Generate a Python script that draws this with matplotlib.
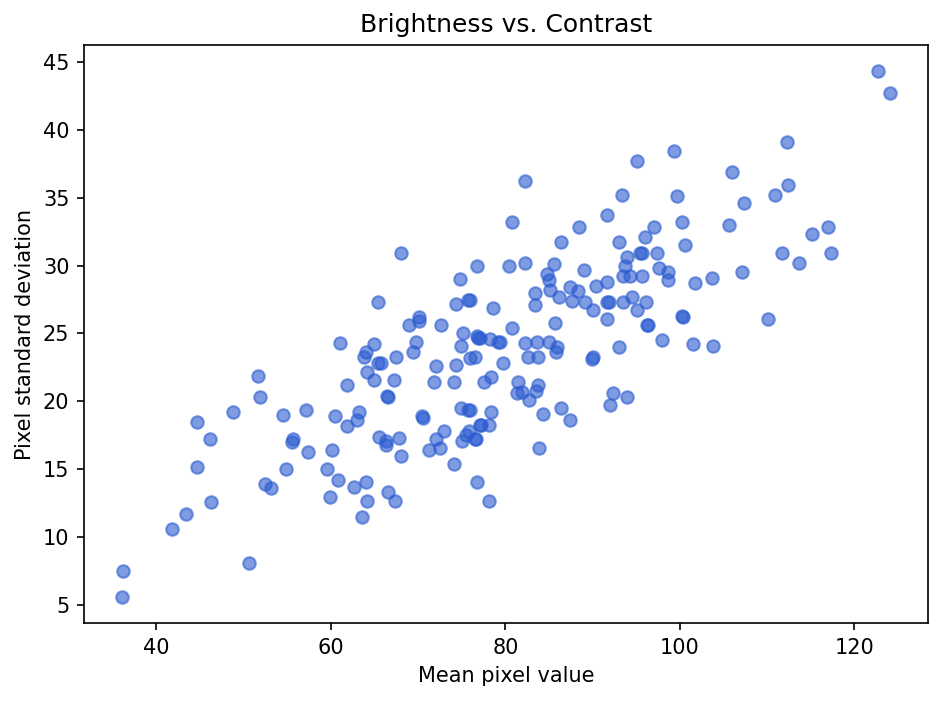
import matplotlib.pyplot as plt

# mean pixel value (x) and pixel standard deviation (y)
mean_px = [
    36.1, 36.2, 41.8, 43.4, 44.6, 44.6, 46.2, 46.3, 48.8, 50.6,
    51.7, 51.9, 52.5, 53.1, 54.5, 54.9, 55.5, 55.7, 57.2, 57.4,
    59.6, 59.9, 60.1, 60.5, 60.8, 61.1, 61.8, 61.9, 62.6, 63.0,
    63.2, 63.6, 63.8, 64.0, 64.0, 64.1, 64.2, 64.9, 64.9, 65.4,
    65.4, 65.5, 65.8, 66.3, 66.3, 66.4, 66.6, 66.6, 67.2, 67.3,
    67.5, 67.8, 68.0, 68.0, 69.0, 69.4, 69.8, 70.1, 70.1, 70.4,
    70.6, 71.2, 71.8, 72.0, 72.1, 72.5, 72.6, 73.0, 74.1, 74.1,
    74.4, 74.3, 74.8, 74.9, 74.9, 75.0, 75.2, 75.5, 75.7, 75.7,
    75.8, 75.9, 76.0, 76.0, 76.5, 76.5, 76.6, 76.7, 76.8, 76.8,
    76.9, 77.1, 77.1, 77.2, 77.5, 78.1, 78.1, 78.3, 78.4, 78.4,
    78.6, 79.2, 79.4, 79.7, 80.4, 80.8, 80.8, 81.3, 81.5, 81.9,
    82.2, 82.3, 82.2, 82.6, 82.7, 83.4, 83.4, 83.5, 83.6, 83.7,
    83.7, 83.9, 84.3, 84.8, 85.0, 85.0, 85.1, 85.6, 85.7, 85.8,
    85.9, 86.2, 86.4, 86.4, 87.4, 87.4, 87.7, 88.3, 88.5, 89.0,
    89.1, 89.9, 90.0, 90.1, 90.4, 91.6, 91.6, 91.6, 91.7, 91.9,
    92.0, 92.4, 93.0, 93.0, 93.4, 93.5, 93.5, 93.7, 93.9, 94.0,
    94.3, 94.5, 95.1, 95.1, 95.4, 95.7, 95.7, 96.0, 96.1, 96.2,
    96.3, 97.0, 97.4, 97.6, 98.0, 98.6, 98.7, 99.3, 99.7, 100.2,
    100.3, 100.4, 100.6, 101.5, 101.8, 103.7, 103.8, 105.6, 106.0, 107.1,
    107.4, 110.1, 110.9, 111.7, 112.3, 112.4, 113.7, 115.2, 117.0, 117.3,
    122.7, 124.1,
]
std_px = [
    5.6, 7.5, 10.6, 11.7, 18.5, 15.2, 17.2, 12.6, 19.2, 8.1,
    21.9, 20.3, 13.9, 13.6, 19.0, 15.0, 17.0, 17.2, 19.4, 16.3,
    15.0, 13.0, 16.4, 18.9, 14.2, 24.3, 21.2, 18.2, 13.7, 18.6,
    19.2, 11.5, 23.3, 23.6, 14.1, 22.2, 12.7, 24.2, 21.6, 22.8,
    27.3, 17.4, 22.8, 17.1, 16.8, 20.4, 13.3, 20.3, 21.6, 12.7,
    23.3, 17.3, 16.0, 30.9, 25.6, 23.6, 24.4, 26.2, 25.9, 18.9,
    18.8, 16.4, 21.4, 22.6, 17.2, 16.6, 25.6, 17.8, 15.4, 21.4,
    22.7, 27.2, 29.0, 24.1, 19.5, 17.1, 25.0, 17.5, 27.5, 19.4,
    17.8, 19.4, 23.2, 27.5, 23.3, 17.2, 17.2, 30.0, 24.8, 14.1,
    24.7, 24.7, 18.3, 18.3, 21.4, 12.7, 18.3, 24.6, 21.8, 19.2,
    26.9, 24.4, 24.4, 22.8, 30.0, 33.2, 25.4, 20.6, 21.4, 20.7,
    30.2, 36.2, 24.3, 23.3, 20.1, 28.0, 27.1, 20.8, 24.4, 23.3,
    21.2, 16.6, 19.1, 29.4, 28.9, 24.4, 28.2, 30.1, 25.8, 23.6,
    24.0, 27.7, 31.7, 19.5, 28.4, 18.6, 27.4, 28.1, 32.8, 29.7,
    27.3, 23.1, 26.7, 23.3, 28.5, 33.7, 27.3, 26.1, 28.8, 27.3,
    19.7, 20.6, 31.7, 24.0, 35.2, 29.2, 27.3, 30.0, 20.3, 30.6,
    29.2, 27.7, 37.7, 26.7, 30.9, 29.2, 30.9, 32.1, 27.3, 25.6,
    25.6, 32.8, 30.9, 29.8, 24.5, 28.9, 29.5, 38.4, 35.1, 33.2,
    26.3, 26.2, 31.5, 24.2, 28.7, 29.1, 24.1, 33.0, 36.9, 29.5,
    34.6, 26.1, 35.2, 30.9, 39.1, 35.9, 30.2, 32.3, 32.8, 30.9,
    44.3, 42.7,
]


def main() -> None:
    fig, ax = plt.subplots(figsize=(6.29, 4.68))
    ax.scatter(mean_px, std_px, color="#2a5bd0", alpha=0.6)
    ax.set_title("Brightness vs. Contrast")
    ax.set_xlabel("Mean pixel value")
    ax.set_ylabel("Pixel standard deviation")
    fig.subplots_adjust(left=0.089, right=0.984, top=0.936, bottom=0.112)
    fig.savefig("out.png", dpi=150)


if __name__ == "__main__":
    main()
